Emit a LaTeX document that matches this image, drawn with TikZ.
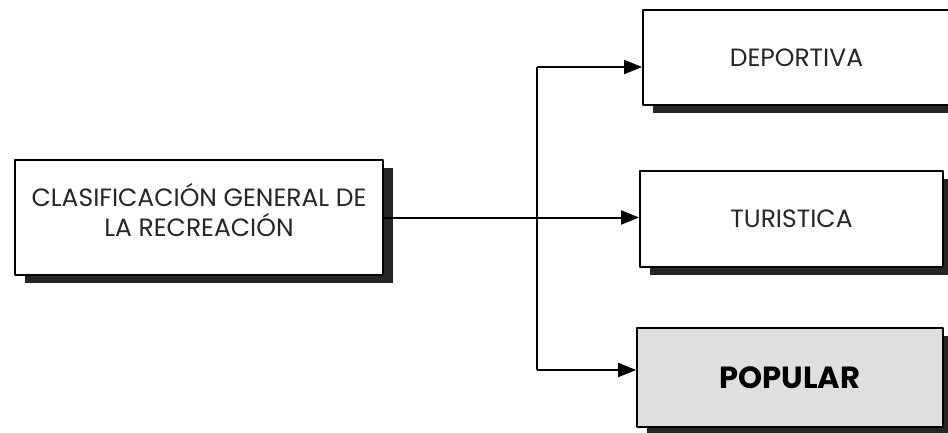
\documentclass[tikz,border=0pt]{standalone}
\usepackage{fontspec}
\setmainfont{Poppins}
\usetikzlibrary{arrows.meta,shadows}
\begin{document}
\begin{tikzpicture}[x=0.5pt,y=-0.5pt,>={Triangle[length=9pt,width=7pt]}, font=\fontsize{12.5}{15}\selectfont, line join=round,
	caja/.style={draw,line width=0.9pt,fill=white,align=center,inner sep=0pt,text=black!85,
		drop shadow={shadow xshift=5pt,shadow yshift=-4pt,opacity=1,fill=black!85}},
	flecha/.style={->,line width=1pt}]
	\def\xtronco{537} % linea vertical
	\useasboundingbox (0,0) rectangle (948,433);
	
	\node[caja,minimum width=184pt,minimum height=57.5pt] (gen) at (199,217.5)
		{CLASIFICACIÓN GENERAL DE\\LA RECREACIÓN\\[-7pt]};
	\node[caja,minimum width=153.5pt,minimum height=47.5pt] (dep) at (796.5,57.5) {DEPORTIVA};
	\node[caja,minimum width=151.5pt,minimum height=48pt] (tur) at (791.5,219) {TURISTICA};
	\node[caja,fill=gray!25,text=black,minimum width=153pt,minimum height=49.5pt,font=\fontsize{15.3}{17}\selectfont\bfseries] (pop) at (790,377.5) {POPULAR};
	
	\coordinate (arriba) at (\xtronco,67);
	\coordinate (abajo) at (\xtronco,370);
	\draw[line width=1pt] (arriba) -- (abajo);
	\draw[flecha] (arriba) -- (dep.west |- arriba);
	\draw[flecha] (gen.east) -- (gen.east -| tur.west);
	\draw[flecha] (abajo) -- (pop.west |- abajo);
\end{tikzpicture}
\end{document}
